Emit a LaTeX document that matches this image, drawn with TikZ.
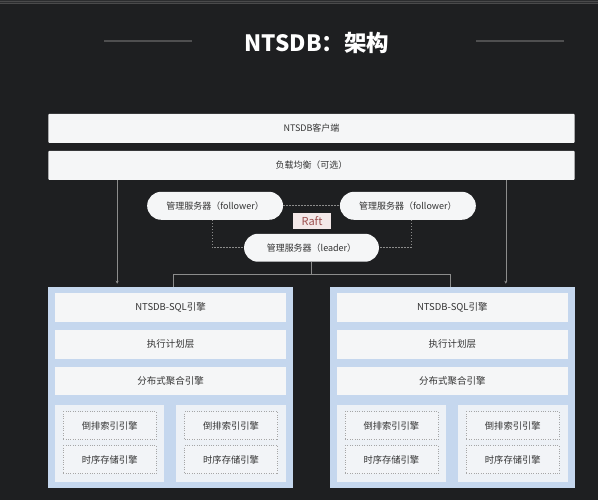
\documentclass[tikz,border=0pt]{standalone}
\usepackage{fontspec}
\setmainfont{Noto Sans CJK SC}
\usetikzlibrary{arrows.meta}

\definecolor{bg}{HTML}{1E1F21}
\definecolor{band}{HTML}{2C2D2F}
\definecolor{barwhite}{HTML}{F5F6F7}
\definecolor{txt}{HTML}{333333}
\definecolor{wire}{HTML}{8C8C8C}
\definecolor{clblue}{HTML}{C5D7EE}
\definecolor{subfill}{HTML}{EDF1F6}
\definecolor{raftbg}{HTML}{F3E8E8}
\definecolor{rafttxt}{HTML}{9C4E4E}

\begin{document}
\begin{tikzpicture}[x=1pt,y=-1pt,
  bar/.style={fill=barwhite,rounded corners=1pt,inner sep=0pt,text=txt,
    minimum width=527pt,minimum height=29pt,font=\fontsize{9}{11}\selectfont},
  pill/.style={fill=barwhite,rounded corners=14pt,inner sep=0pt,text=txt,
    minimum width=136pt,minimum height=28pt,font=\fontsize{9}{11}\selectfont},
  cluster/.style={fill=clblue,inner sep=0pt,minimum width=245pt,minimum height=201pt},
  layer/.style={fill=barwhite,inner sep=0pt,text=txt,minimum width=231pt,
    font=\fontsize{9.5}{11}\selectfont},
  subbox/.style={fill=subfill,inner sep=0pt,minimum height=77pt},
  engine/.style={draw=gray!70,dotted,fill=barwhite!60!subfill,inner sep=0pt,text=txt,
    minimum width=93pt,minimum height=28pt,font=\fontsize{9.3}{11}\selectfont},
  conn/.style={draw=wire,line width=0.6pt},
  raftlink/.style={draw=wire,line width=0.6pt,dash pattern=on 1.5pt off 1.5pt},
  deco/.style={draw=gray!50!bg,line width=1.2pt}]

  % Background
  \fill[bg] (0,0) rectangle (598,500);
  \fill[band] (0,0) rectangle (598,4);
  \draw[gray!45!bg,line width=0.6pt] (0,1) -- (598,1) (0,3.5) -- (598,3.5);
  \useasboundingbox (0,0) rectangle (598,500);

  % Title
  \node[text=white,font=\fontsize{22.5}{26}\bfseries\selectfont] (title) at (317,43) {NTSDB：架构};
  \draw[deco] (104,41) -- (192,41);
  \draw[deco] (476,41) -- (564,41);

  % Client and load balancer
  \node[bar] (client) at (311.5,128.5) {NTSDB客户端};
  \node[bar] (lb) at (311.5,165.5) {负载均衡（可选）};

  % Management servers
  \node[pill] (fl) at (215,206) {管理服务器（follower）};
  \node[pill] (fr) at (408,206) {管理服务器（follower）};
  \node[pill,minimum width=135pt] (leader) at (311.5,248) {管理服务器（leader）};
  \node[fill=raftbg,text=rafttxt,minimum width=38pt,minimum height=16pt,inner sep=0pt,
    font=\fontsize{11}{13}\selectfont] (raft) at (312,221) {Raft};

  % Raft links
  \draw[raftlink] (fl.east) -- (fr.west);
  \draw[raftlink] ([xshift=-3pt]fl.south) |- (leader.west);
  \draw[raftlink] ([xshift=3pt]fr.south) |- (leader.east);

  % Clusters
  \foreach \s/\dx in {L/0,R/282} {
    \node[cluster] (cl\s) at (170.5+\dx,387.5) {};
    \node[layer,minimum height=29pt] (sql\s) at (170.5+\dx,307.5) {NTSDB-SQL引擎};
    \node[layer,minimum height=29pt] (plan\s) at (170.5+\dx,344.5) {执行计划层};
    \node[layer,minimum height=28pt] (agg\s) at (170.5+\dx,381) {分布式聚合引擎};
    \node[subbox,minimum width=109pt] (subA\s) at (109.5+\dx,443.5) {};
    \node[subbox,minimum width=110pt] (subB\s) at (231+\dx,443.5) {};
    \node[engine] (idxA\s) at (109.5+\dx,426) {倒排索引引擎};
    \node[engine] (tsA\s) at (109.5+\dx,460) {时序存储引擎};
    \node[engine] (idxB\s) at (231+\dx,426) {倒排索引引擎};
    \node[engine] (tsB\s) at (231+\dx,460) {时序存储引擎};
  }

  % Connectors
  \coordinate (leftdrop) at (117,284);
  \coordinate (rightdrop) at (506,284);
  \draw[conn,-{Stealth[length=3pt,width=3pt]}] (lb.south -| leftdrop) -- (leftdrop);
  \draw[conn,-{Stealth[length=3pt,width=3pt]}] (lb.south -| rightdrop) -- (rightdrop);
  \draw[conn] (leader.south) -- ++(0,12) coordinate (split);
  \draw[conn] (split) -| ([xshift=2.5pt]clL.north);
  \draw[conn] (split) -| ([xshift=-2.5pt]clR.north);

\end{tikzpicture}
\end{document}
